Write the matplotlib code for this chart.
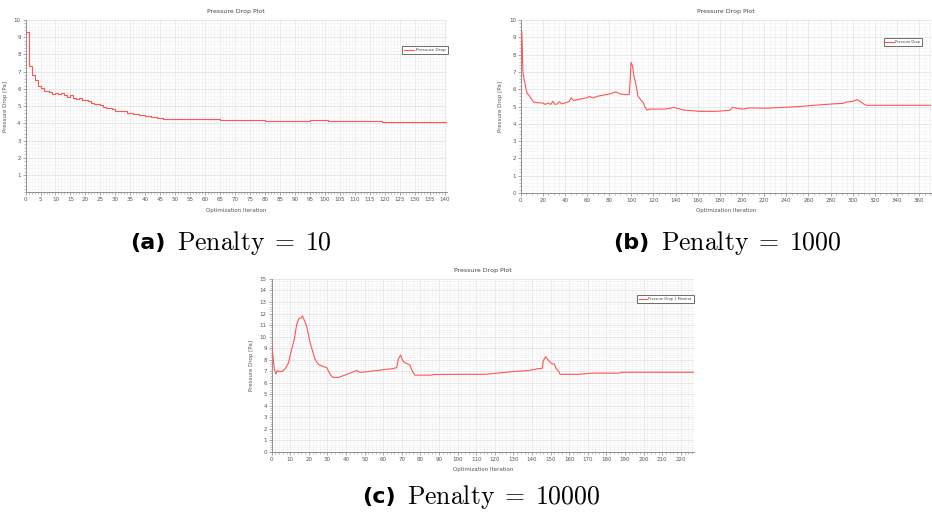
import matplotlib
matplotlib.use("Agg")
import matplotlib.pyplot as plt
from matplotlib.ticker import MultipleLocator

plt.rcParams['mathtext.fontset'] = 'cm'

# ---------------- data ----------------
a_iter = [0, 1, 2, 3, 4, 5, 6, 8, 9, 10, 11, 12, 13, 14, 15, 16, 17, 18, 19, 21,
          22, 23, 24, 25, 26, 27, 28, 29, 30, 32, 34, 36, 38, 40, 42, 44, 46, 47,
          65, 80, 95, 101, 119, 141]
a_val = [9.3, 7.35, 6.8, 6.5, 6.2, 6.05, 5.88, 5.8, 5.72, 5.78, 5.7, 5.75, 5.65, 5.55,
         5.65, 5.5, 5.42, 5.48, 5.35, 5.3, 5.2, 5.15, 5.1, 5.05, 4.97, 4.92, 4.88,
         4.82, 4.75, 4.7, 4.63, 4.57, 4.5, 4.45, 4.36, 4.3, 4.26, 4.25,
         4.2, 4.15, 4.18, 4.13, 4.08, 4.07]

b_iter = [0, 1, 2, 3, 4, 5, 6, 8, 10, 12, 15, 20, 22, 25, 27, 29, 31, 33, 35, 37,
          40, 44, 45.5, 48, 55, 60, 62, 65, 70, 80, 84, 86, 90, 95, 98, 99, 99.7,
          101, 102.5, 104, 106, 109, 111, 112, 114, 117, 120, 130, 135, 138, 141,
          147, 162, 177, 189, 191.5, 195, 201, 207, 222, 237, 252, 267, 282, 291,
          294, 300, 304, 306.6, 311, 313, 371]
b_val = [7.2, 9.35, 7.0, 6.6, 6.3, 5.95, 5.75, 5.6, 5.4, 5.25, 5.22, 5.2, 5.12, 5.2,
         5.12, 5.3, 5.12, 5.15, 5.28, 5.15, 5.2, 5.3, 5.5, 5.35, 5.45, 5.5, 5.58,
         5.5, 5.6, 5.72, 5.8, 5.85, 5.72, 5.68, 5.7, 6.6, 7.55, 7.35, 6.7, 6.3,
         5.6, 5.35, 5.2, 5.0, 4.8, 4.85, 4.85, 4.85, 4.9, 4.95, 4.9, 4.8, 4.72,
         4.72, 4.78, 4.95, 4.9, 4.85, 4.92, 4.9, 4.95, 5.0, 5.08, 5.15, 5.18,
         5.25, 5.3, 5.4, 5.3, 5.1, 5.07, 5.07]

c_iter = [0, 1.4, 2.3, 3, 4, 6, 7.2, 9, 10, 10.8, 12.2, 13.4, 14.7, 15.8, 16.5,
          17.6, 18.8, 19.7, 20.6, 21.5, 22.4, 23.3, 24.2, 25.4, 27.8, 29.6, 30.5,
          31.9, 33.2, 35.8, 39.4, 43, 45.7, 47.5, 50.2, 53.8, 57.3, 61, 64.5,
          67.2, 68.1, 69.3, 70.2, 71.3, 73.5, 74.4, 75.3, 76.2, 77, 86, 87, 100,
          114.7, 120, 129, 138, 143, 145.6, 146, 147.3, 148.7, 150.5, 152, 153,
          154.5, 155, 165, 172, 187, 188, 227]
c_val = [9.35, 7.2, 6.75, 7.05, 6.95, 7.0, 7.2, 7.7, 8.4, 8.9, 9.8, 11.0, 11.6, 11.6,
         11.8, 11.4, 10.9, 10.2, 9.5, 9.0, 8.5, 8.05, 7.8, 7.55, 7.4, 7.3, 7.0,
         6.6, 6.45, 6.45, 6.65, 6.88, 7.05, 6.9, 6.92, 7.0, 7.05, 7.15, 7.2, 7.3,
         8.05, 8.4, 8.0, 7.75, 7.6, 7.5, 7.1, 6.85, 6.65, 6.65, 6.7, 6.72, 6.72,
         6.8, 6.95, 7.05, 7.2, 7.25, 7.9, 8.25, 7.95, 7.65, 7.6, 7.2, 6.95, 6.72,
         6.72, 6.82, 6.82, 6.9, 6.9]

title_txt = "Pressure Drop Plot"
xlabel_txt = "Optimization Iteration"
ylabel_txt = "Pressure Drop [Pa]"
legend_a = "Pressure Drop"
legend_b = "Pressure Drop"
legend_c = "Pressure Drop 1 Monitor"
captions = [("(a)", r"$\mathrm{Penalty}\;=\;10$"),
            ("(b)", r"$\mathrm{Penalty}\;=\;1000$"),
            ("(c)", r"$\mathrm{Penalty}\;=\;10000$")]

LINE = '#ff5555'

fig = plt.figure(figsize=(9.32, 5.15), dpi=100)
fig.patch.set_facecolor('white')

def style(ax, xmax, xmaj, xmin, ymax, ymin, yticks):
    ax.set_xlim(0, xmax)
    ax.set_ylim(0, ymax)
    ax.xaxis.set_major_locator(MultipleLocator(xmaj))
    ax.xaxis.set_minor_locator(MultipleLocator(xmin))
    ax.set_yticks(yticks)
    ax.yaxis.set_minor_locator(MultipleLocator(ymin))
    ax.grid(True, which='major', color='#e4e4e4', lw=0.6)
    ax.grid(True, which='minor', color='#f3f3f3', lw=0.5)
    ax.set_axisbelow(True)
    for s in ['top', 'right']:
        ax.spines[s].set_visible(False)
    for s in ['left', 'bottom']:
        ax.spines[s].set_color('#909090')
        ax.spines[s].set_linewidth(0.7)
    ax.tick_params(which='major', length=2, width=0.5, color='#808080',
                   labelsize=4, labelcolor='#555555', pad=1.5)
    ax.tick_params(which='minor', length=1.2, width=0.4, color='#909090')
    ax.set_title(title_txt, fontsize=4.5, color='#444444', pad=5)
    ax.set_xlabel(xlabel_txt, fontsize=4, color='#555555', labelpad=4)
    ax.set_ylabel(ylabel_txt, fontsize=4, color='#555555', labelpad=4)

def legend(ax, label, x, y, fs):
    lg = ax.legend([label], loc='upper left', bbox_to_anchor=(x, y), fontsize=fs,
                   fancybox=False, framealpha=1, edgecolor='#555555',
                   handlelength=2.4, borderpad=0.5, handletextpad=0.3,
                   borderaxespad=0)
    lg.get_frame().set_linewidth(0.6)
    for t in lg.get_texts():
        t.set_color('#444444')

# (a)
axa = fig.add_axes([0.0274, 0.6264, 0.4522, 0.3348])
axa.plot(a_iter, a_val, color=LINE, lw=0.8, drawstyle='steps-post', zorder=3)
style(axa, 140.7, 5, 1, 10, 0.2, list(range(1, 11)))
legend(axa, legend_a, 0.893, 0.85, 3.1)

# (b)
axb = fig.add_axes([0.5587, 0.6252, 0.4405, 0.336])
axb.plot(b_iter, b_val, color=LINE, lw=0.8, zorder=3)
style(axb, 371, 20, 5, 10, 0.2, list(range(0, 11)))
legend(axb, legend_b, 0.884, 0.896, 2.6)

# (c)
axc = fig.add_axes([0.2915, 0.1229, 0.4534, 0.3354])
axc.plot(c_iter, c_val, color=LINE, lw=0.8, zorder=3)
style(axc, 227.2, 10, 2, 15, 0.2, list(range(0, 16)))
legend(axc, legend_c, 0.864, 0.907, 2.6)

# captions
cap_pos = [(0.178, 0.190, 1 - 243 / 515), (0.6965, 0.709, 1 - 243 / 515),
           (0.4245, 0.437, 1 - 497 / 515)]
for (lab, txt), (xl, xt, y) in zip(captions, cap_pos):
    fig.text(xl, y, lab, fontsize=16, fontweight='bold', family='DejaVu Sans',
             ha='right', va='center')
    fig.text(xt, y, txt, fontsize=18.5, ha='left', va='center')

fig.savefig('out.png', dpi=100, facecolor='white')
